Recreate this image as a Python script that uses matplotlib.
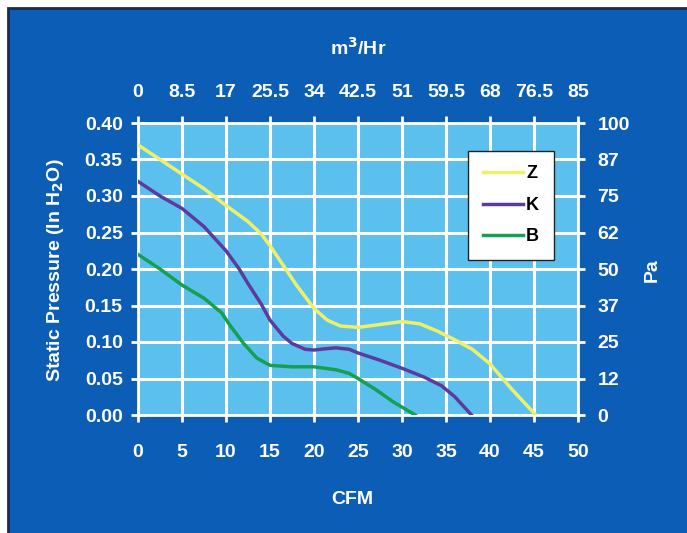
import matplotlib
matplotlib.use('Agg')
import matplotlib.pyplot as plt
from matplotlib.patches import Rectangle
from matplotlib.ticker import FixedLocator, FixedFormatter

# fan curves (CFM vs in H2O)
z_cfm = [0, 2.5, 5, 7.5, 10, 12.5, 14, 15, 16.5, 18, 20, 21.5, 23, 25, 27.5,
         30, 32, 34, 36, 38, 40, 42.5, 45.2]
z_p = [0.37, 0.35, 0.33, 0.31, 0.287, 0.265, 0.248, 0.232, 0.205, 0.178, 0.146,
       0.13, 0.122, 0.12, 0.124, 0.128, 0.125, 0.115, 0.103, 0.09, 0.07, 0.035, 0.0]
k_cfm = [0, 2.5, 5, 7.5, 10, 11.5, 12.5, 14, 15, 16.5, 17.5, 19, 20, 21.5, 22.5,
         24, 25, 27.5, 30, 32.5, 34.5, 36, 37.9]
k_p = [0.32, 0.30, 0.283, 0.258, 0.225, 0.20, 0.18, 0.152, 0.13, 0.108, 0.098,
       0.09, 0.089, 0.091, 0.092, 0.09, 0.085, 0.075, 0.064, 0.052, 0.04, 0.025, 0.0]
b_cfm = [0, 2.5, 5, 7.5, 9.5, 10.5, 12, 13.5, 15, 17.5, 20, 22.5, 24, 25, 27,
         29, 31.5]
b_p = [0.22, 0.2, 0.178, 0.16, 0.14, 0.122, 0.098, 0.078, 0.068, 0.066, 0.066,
       0.062, 0.057, 0.05, 0.035, 0.018, 0.0]

cfm_ticks = list(range(0, 55, 5))
press_ticks = [i * 0.05 for i in range(9)]
m3hr_labels = ["0", "8.5", "17", "25.5", "34", "42.5", "51", "59.5", "68", "76.5", "85"]
pa_labels = ["0", "12", "25", "37", "50", "62", "75", "87", "100"]

panel_blue = '#0b5db5'
plot_blue = '#5cc0ef'
plt.rcParams['font.family'] = ['Liberation Sans', 'DejaVu Sans']
plt.rcParams['font.weight'] = 'bold'

fig = plt.figure(figsize=(6.87, 5.33), dpi=100)
fig.patch.set_facecolor('white')
# blue panel, dark edge only shows on the left and top
fig.patches.append(Rectangle((8 / 687, -0.05), 1.1, 1.05 - 8 / 533,
                             transform=fig.transFigure, facecolor=panel_blue,
                             edgecolor='#1b2b4b', linewidth=2, zorder=-10))

ax = fig.add_axes([138 / 687, 1 - 415 / 533, 440 / 687, 292 / 533])
ax.set_facecolor(plot_blue)
ax.set_xlim(0, 50)
ax.set_ylim(0, 0.4)
ax.set_xticks(cfm_ticks)
ax.set_yticks(press_ticks)
ax.set_xticklabels([str(t) for t in cfm_ticks])
ax.set_yticklabels(['%.2f' % t for t in press_ticks])
ax.grid(True, color='white', linewidth=2.2)
ax.set_axisbelow(True)
for s in ax.spines.values():
    s.set_color('white')
    s.set_linewidth(2)

ax.plot(z_cfm, z_p, color='#eef06a', linewidth=2.5, label='Z', zorder=3)
ax.plot(k_cfm, k_p, color='#5b3c9e', linewidth=2.5, label='K', zorder=3)
ax.plot(b_cfm, b_p, color='#15a050', linewidth=2.5, label='B', zorder=3)

ax.tick_params(axis='both', which='both', direction='inout', length=10, width=2,
               color='white', labelcolor='white', labelsize=14)
ax.tick_params(axis='x', pad=16)
ax.tick_params(axis='y', pad=6)

# top axis in m3/hr, right axis in Pa
top = ax.secondary_xaxis('top')
top.xaxis.set_major_locator(FixedLocator(cfm_ticks))
top.xaxis.set_major_formatter(FixedFormatter(m3hr_labels))
top.tick_params(direction='inout', length=10, width=2, color='white',
                labelcolor='white', labelsize=14, pad=11)
top.spines['top'].set_color('white')

right = ax.secondary_yaxis('right')
right.yaxis.set_major_locator(FixedLocator(press_ticks))
right.yaxis.set_major_formatter(FixedFormatter(pa_labels))
right.tick_params(direction='inout', length=10, width=2, color='white',
                  labelcolor='white', labelsize=14, pad=9)
right.spines['right'].set_color('white')

leg = ax.legend(loc='upper right', bbox_to_anchor=(0.965, 0.935), frameon=True,
                fancybox=False, handlelength=2.2, handletextpad=0.2,
                labelspacing=0.8, borderpad=0.8, prop={'size': 13, 'weight': 'bold'})
leg.get_frame().set_edgecolor('#222222')
leg.get_frame().set_linewidth(1)
leg.get_frame().set_alpha(1)

fig.text(358 / 687, 1 - 48 / 533, 'm$^3$/Hr', color='white', fontsize=14,
         ha='center', va='center')
fig.text(352 / 687, 1 - 500 / 533, 'CFM', color='white', fontsize=14,
         ha='center', va='center')
fig.text(55 / 687, 1 - 270 / 533, 'Static Pressure (In H$_2$O)', color='white',
         fontsize=14, ha='center', va='center', rotation=90)
fig.text(652 / 687, 1 - 270 / 533, 'Pa', color='white', fontsize=14,
         ha='center', va='center', rotation=90)

fig.savefig('out.png', dpi=100, facecolor=fig.get_facecolor())
